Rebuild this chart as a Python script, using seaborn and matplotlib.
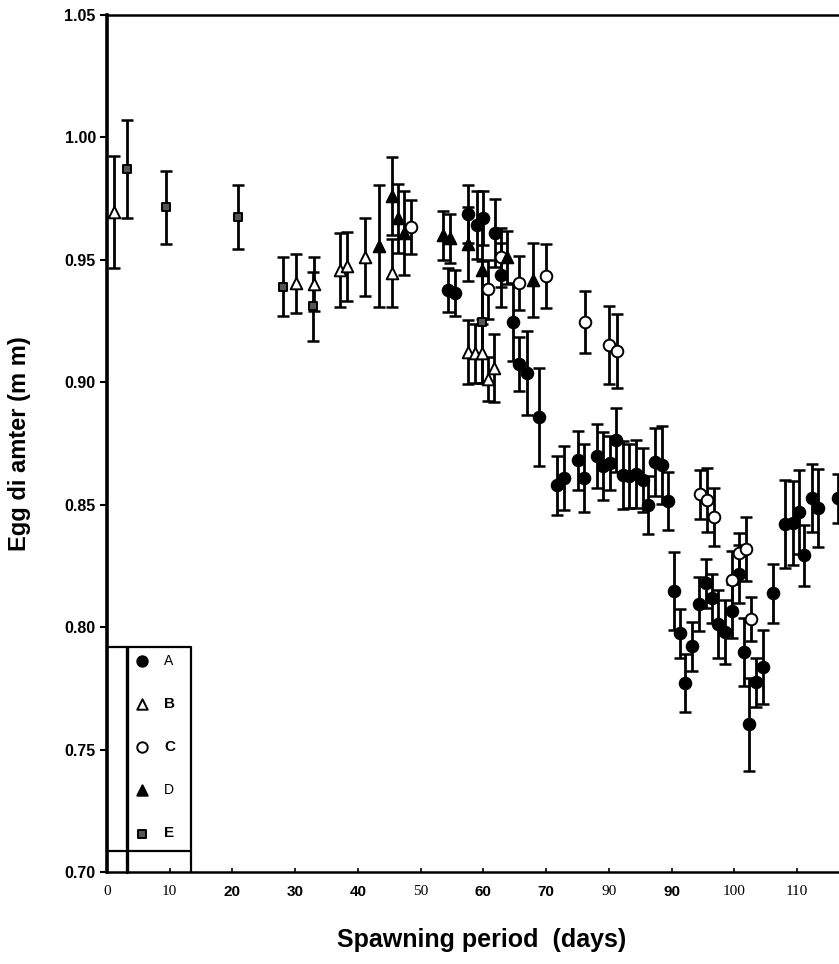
"""
Diamètre des oeufs au cours de la période de ponte (séries A à E).
"""

import matplotlib
matplotlib.use("Agg")
import matplotlib.pyplot as plt
import numpy as np
import pandas as pd
import seaborn as sns

# --- données : jour, diamètre moyen (mm), écart ---
jours_a = [54.4, 55.5, 57.6, 59.0, 60.0, 61.9, 62.8, 64.8, 65.7, 67.0, 68.9,
           71.8, 72.9, 75.1, 76.1, 78.1, 79.1, 80.2, 81.2, 82.3, 83.3, 84.4,
           85.5, 86.3, 87.4, 88.5, 89.5, 90.4, 91.4, 92.2, 93.3, 94.4, 95.5,
           96.5, 97.4, 98.6, 99.7, 100.8, 101.6, 102.4, 103.5, 104.6, 106.1,
           108.1, 109.4, 110.4, 111.2, 112.4, 113.4, 116.6]
diam_a = [0.9376, 0.9364, 0.9687, 0.9642, 0.967, 0.961, 0.9438, 0.9246, 0.9074,
          0.9038, 0.8858, 0.858, 0.8609, 0.8682, 0.8609, 0.8699, 0.8658, 0.867,
          0.8764, 0.8621, 0.8617, 0.8625, 0.860, 0.8499, 0.8674, 0.8662, 0.8515,
          0.8147, 0.7976, 0.7772, 0.7923, 0.8094, 0.818, 0.8119, 0.8013, 0.798,
          0.8066, 0.8217, 0.7898, 0.7604, 0.7776, 0.7837, 0.8139, 0.842, 0.8425,
          0.847, 0.8294, 0.8527, 0.8486, 0.8527]
err_a = [0.009, 0.0095, 0.012, 0.014, 0.011, 0.014, 0.013, 0.016, 0.011, 0.017,
         0.02, 0.012, 0.013, 0.012, 0.014, 0.013, 0.014, 0.011, 0.013, 0.014,
         0.013, 0.014, 0.013, 0.012, 0.014, 0.016, 0.012, 0.016, 0.010, 0.012,
         0.010, 0.011, 0.010, 0.010, 0.014, 0.013, 0.011, 0.012, 0.014, 0.019,
         0.010, 0.015, 0.012, 0.018, 0.017, 0.017, 0.0125, 0.014, 0.016, 0.010]

jours_b = [1.1, 30.1, 33.0, 37.2, 38.3, 41.1, 45.5, 57.6, 58.7, 59.8, 60.8, 61.7]
diam_b = [0.9695, 0.9405, 0.940, 0.9458, 0.9474, 0.9511, 0.9446, 0.9123, 0.9119,
          0.9119, 0.9013, 0.9058]
err_b = [0.023, 0.012, 0.011, 0.015, 0.014, 0.016, 0.014, 0.013, 0.012, 0.012,
         0.009, 0.014]

jours_c = [48.5, 60.8, 62.8, 65.7, 70.0, 76.2, 80.1, 81.3, 94.6, 95.7, 96.7,
           99.7, 100.8, 101.9, 102.7]
diam_c = [0.9634, 0.938, 0.951, 0.9405, 0.9434, 0.9246, 0.9152, 0.9127, 0.8543,
          0.8519, 0.845, 0.8192, 0.8303, 0.8319, 0.8033]
err_c = [0.011, 0.012, 0.012, 0.011, 0.013, 0.0125, 0.016, 0.015, 0.010, 0.013,
         0.012, 0.012, 0.008, 0.013, 0.009]

jours_d = [43.4, 45.5, 46.4, 47.4, 53.6, 54.7, 57.6, 59.8, 63.8, 67.9]
diam_d = [0.9556, 0.976, 0.967, 0.961, 0.960, 0.9589, 0.9564, 0.9458, 0.951, 0.9417]
err_d = [0.025, 0.016, 0.014, 0.017, 0.010, 0.010, 0.015, 0.02, 0.011, 0.015]

jours_e = [3.2, 9.4, 20.9, 28.1, 32.9, 59.8]
diam_e = [0.987, 0.9715, 0.9675, 0.939, 0.931, 0.9246]
err_e = [0.020, 0.015, 0.013, 0.012, 0.014, 0.025]

graduations_x = [0, 10, 20, 30, 40, 50, 60, 70, 80, 90, 100, 110]
etiquettes_x = ["0", "10", "20", "30", "40", "50", "60", "70", "90", "90", "100", "110"]
graduations_y = [0.70, 0.75, 0.80, 0.85, 0.90, 0.95, 1.00, 1.05]


def construire_table() -> pd.DataFrame:
    morceaux = []
    for nom, j, d, e in [("A", jours_a, diam_a, err_a), ("B", jours_b, diam_b, err_b),
                         ("C", jours_c, diam_c, err_c), ("D", jours_d, diam_d, err_d),
                         ("E", jours_e, diam_e, err_e)]:
        morceaux.append(pd.DataFrame({"serie": nom, "jour": j, "diametre": d, "ecart": e}))
    return pd.concat(morceaux, ignore_index=True)


df = construire_table()

sns.set_style("ticks", {"axes.edgecolor": "black", "text.color": "black",
                        "xtick.color": "black", "ytick.color": "black"})
plt.rcParams["font.family"] = ["Liberation Sans", "DejaVu Sans"]

fig = plt.figure(figsize=(8.39, 9.64), dpi=100)
ax = fig.add_axes([0.1275, 0.0954, 0.8725, 0.889])

styles = {
    "A": dict(marker="o", color="black", s=70),
    "B": dict(marker="^", color="white", s=70),
    "C": dict(marker="o", color="white", s=70),
    "D": dict(marker="^", color="black", s=70),
    "E": dict(marker="s", color="#555555", s=40),
}

for nom, sous in df.groupby("serie"):
    ax.errorbar(sous["jour"], sous["diametre"], yerr=sous["ecart"], fmt="none",
                ecolor="black", elinewidth=2.0, capsize=4, capthick=1.8, zorder=2)

for nom, sous in df.groupby("serie"):
    st = styles[nom]
    sns.scatterplot(data=sous, x="jour", y="diametre", marker=st["marker"],
                    color=st["color"], edgecolor="black", linewidth=1.4, s=st["s"],
                    ax=ax, label=nom, zorder=3)

ax.set_xlim(0, 116.7)
ax.set_ylim(0.70, 1.05)
ax.set_xticks(graduations_x)
ax.set_xticklabels(etiquettes_x)
ax.set_yticks(graduations_y)
ax.set_yticklabels([f"{v:.2f}" for v in graduations_y], fontsize=11.5, fontweight="bold")
ax.tick_params(axis="y", direction="out", length=5, width=1.5, pad=3)
ax.tick_params(axis="x", direction="in", length=3, width=1.2, pad=9)
for i, t in enumerate(ax.get_xticklabels()):
    if i in (0, 1, 5, 8, 10, 11):
        t.set_fontfamily("Liberation Serif")
        t.set_fontsize(11)
    else:
        t.set_fontweight("bold")
        t.set_fontsize(11)

ax.set_xlabel("")
ax.set_ylabel("")
ax.spines["right"].set_visible(False)
ax.spines["left"].set_linewidth(2.6)
ax.spines["top"].set_linewidth(1.8)
ax.spines["bottom"].set_linewidth(1.8)

fig.text(0.023, 0.54, "Egg di amter (m m)", rotation=90, ha="center", va="center",
         fontsize=17, fontweight="bold")
fig.text(0.574, 0.025, "Spawning period  (days)", ha="center", va="center",
         fontsize=18, fontweight="bold")

# cadre de la légende
ax.plot([0, 0.1148, 0.1148], [0.2625, 0.2625, 0], transform=ax.transAxes,
        color="black", lw=1.6, clip_on=False, zorder=4)
ax.plot([0.0273, 0.0273], [0, 0.2625], transform=ax.transAxes,
        color="black", lw=2.4, clip_on=False, zorder=4)
ax.plot([0, 0.1148], [0.0245, 0.0245], transform=ax.transAxes,
        color="black", lw=1.6, clip_on=False, zorder=4)

leg = ax.legend(loc="upper left", bbox_to_anchor=(0.036, 0.255), frameon=False,
                fontsize=10, labelspacing=2.1, handletextpad=1.0, handlelength=1.2,
                borderpad=0, borderaxespad=0, markerscale=0.9)
for t in leg.get_texts():
    if t.get_text() in ("B", "C", "E"):
        t.set_fontweight("bold")
        t.set_fontsize(11)

fig.savefig("out.png", dpi=100)
plt.close(fig)
